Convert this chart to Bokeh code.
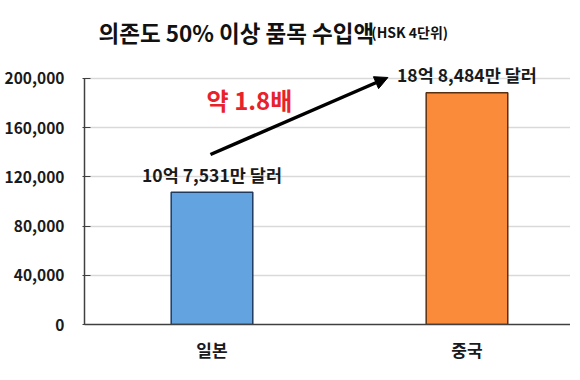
from bokeh.plotting import figure
from bokeh.models import ColumnDataSource, Range1d, FixedTicker, Label, Arrow, NormalHead, NumeralTickFormatter
from bokeh.embed import file_html
from bokeh.resources import INLINE
from bokeh.core.properties import value

# data (unit: 만 달러)
countries = ["일본", "중국"]
imports = [107531, 188484]
bar_colors = ["#62a3e0", "#f98b3b"]
bar_edges = ["#1f3a5f", "#5a2f0e"]
y_ticks = [0, 40000, 80000, 120000, 160000, 200000]
title_main = "의존도 50% 이상 품목 수입액"
title_sub = "(HSK 4단위)"
ratio_text = "약 1.8배"

FONT = "Noto Sans CJK KR"

def fmt(v):
    eok, man = divmod(v, 10000)
    return f"{eok}억 {man:,}만 달러"

xs = [i + 0.5 for i in range(len(countries))]
src = ColumnDataSource(dict(x=xs, top=imports, color=bar_colors, edge=bar_edges,
                            label=[fmt(v) for v in imports]))

p = figure(frame_width=486, frame_height=317, output_backend="svg", toolbar_location=None,
           x_range=Range1d(0, 1.906), y_range=Range1d(0, 257700),
           min_border_left=84, min_border_right=0, min_border_top=7, min_border_bottom=40)
p.outline_line_color = None
p.background_fill_color = "white"

p.vbar(x="x", top="top", width=0.32, source=src, fill_color="color",
       line_color="edge", line_width=1.5)

p.text(x="x", y="top", text="label", source=src, text_align="center", text_baseline="middle",
       y_offset=-18, text_font=value(FONT), text_font_style="bold", text_font_size="17.5px",
       text_color="#1a1a1a")

# axes
p.yaxis.ticker = FixedTicker(ticks=y_ticks)
p.yaxis.bounds = (0, 200000)
p.yaxis.formatter = NumeralTickFormatter(format="0,0")
p.yaxis.major_label_text_font = FONT
p.yaxis.major_label_text_font_style = "bold"
p.yaxis.major_label_text_font_size = "15.5px"
p.yaxis.major_label_text_color = "#1a1a1a"
p.yaxis.major_label_standoff = 18
p.yaxis.major_tick_in = 6
p.yaxis.major_tick_out = 2
p.yaxis.minor_tick_line_color = None
p.yaxis.axis_line_color = "#404040"
p.yaxis.major_tick_line_color = "#404040"
p.yaxis.axis_line_width = 1.5

p.xaxis.ticker = FixedTicker(ticks=xs)
p.xaxis.major_label_overrides = {x: c for x, c in zip(xs, countries)}
p.xaxis.major_label_text_font = FONT
p.xaxis.major_label_text_font_style = "bold"
p.xaxis.major_label_text_font_size = "17px"
p.xaxis.major_label_text_color = "#1a1a1a"
p.xaxis.major_label_standoff = 12
p.xaxis.major_tick_in = 0
p.xaxis.major_tick_out = 0
p.xaxis.major_tick_line_color = None
p.xaxis.minor_tick_line_color = None
p.xaxis.axis_line_color = "#404040"
p.xaxis.axis_line_width = 1.5

p.xgrid.grid_line_color = None
p.ygrid.grid_line_color = "#d9d9d9"
p.ygrid.grid_line_width = 1.5

# arrow and ratio text
p.add_layout(Arrow(x_start=0.494, y_start=138200, x_end=1.19, y_end=200800,
                   line_width=3.5, line_color="black",
                   end=NormalHead(size=13, fill_color="black", line_color="black")))
p.add_layout(Label(x=0.647, y=182900, text=ratio_text, text_align="center", text_baseline="middle",
                   text_font=FONT, text_font_style="bold", text_font_size="24px",
                   text_color="#e8222a"))

# title
p.add_layout(Label(x=0.055, y=237400, text=title_main, text_align="left", text_baseline="alphabetic",
                   text_font=FONT, text_font_style="bold", text_font_size="22.5px",
                   text_color="#111111"))
p.add_layout(Label(x=1.125, y=237400, text=title_sub, text_align="left", text_baseline="alphabetic",
                   text_font=FONT, text_font_style="bold", text_font_size="14px",
                   text_color="#111111"))

open("out.html", "w").write(file_html(p, INLINE))
